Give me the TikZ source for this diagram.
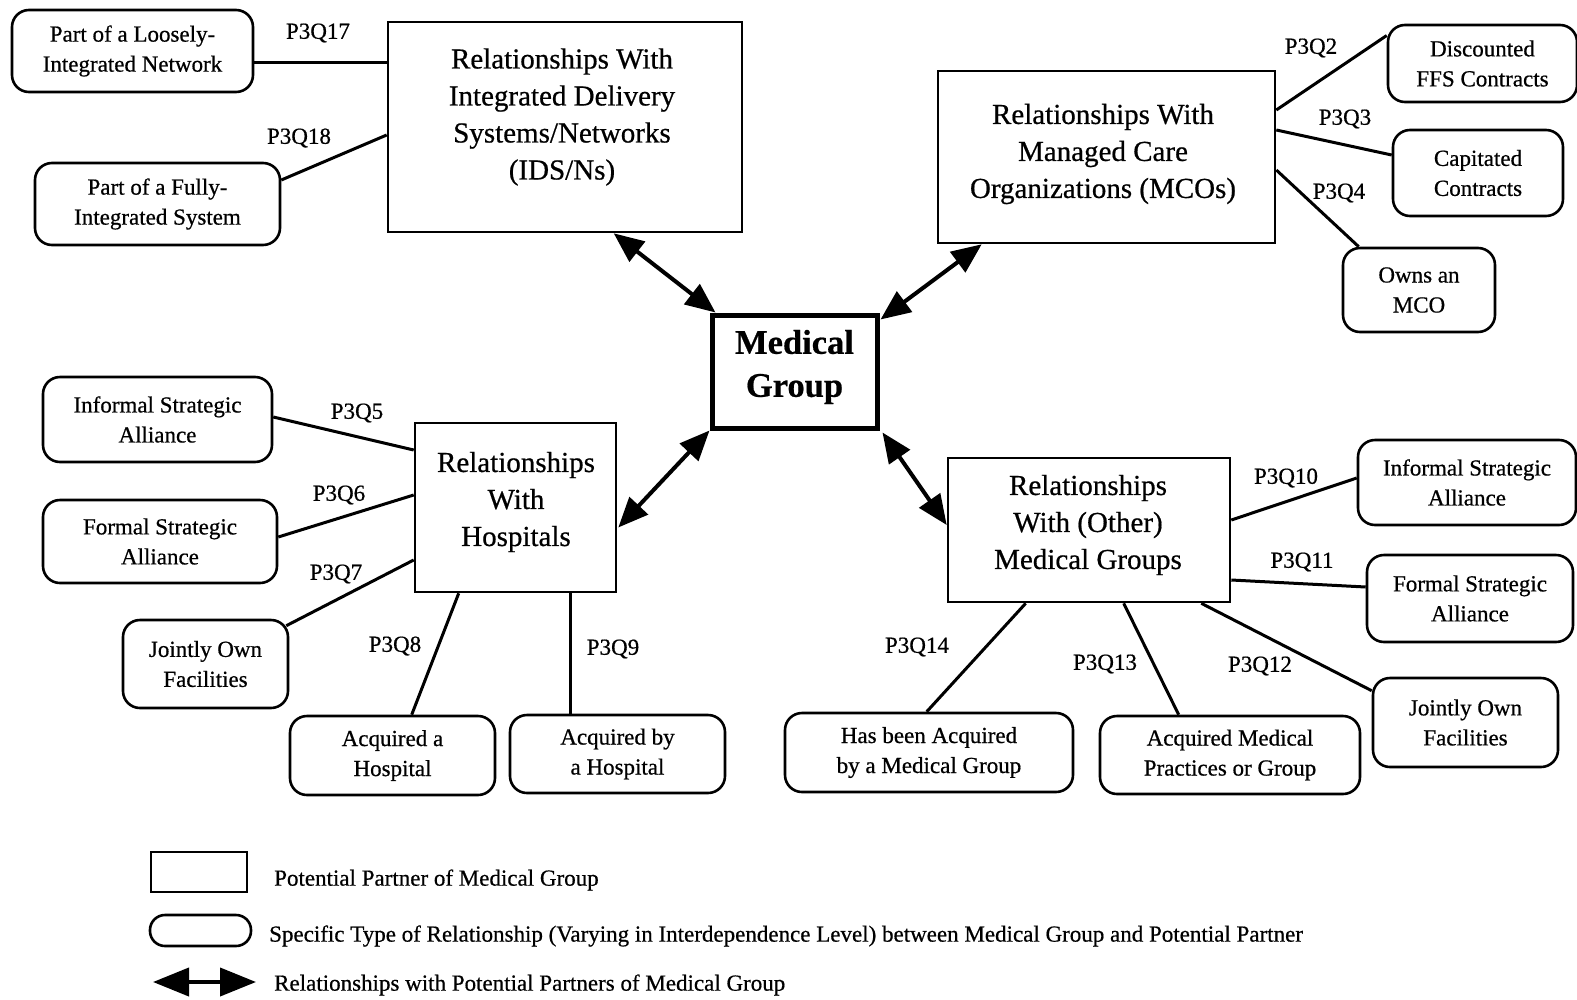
\documentclass[tikz,border=0pt]{standalone}
\usepackage{fontspec}
\setmainfont{Liberation Serif}[FakeBold=0.6]
\usetikzlibrary{calc,arrows.meta}
\begin{document}
\begin{tikzpicture}[x=1pt,y=-1pt,
  partner/.style={draw,line width=2.6pt,inner sep=0pt},
  partnertext/.style={align=center,inner sep=0pt,font=\fontsize{29}{37}\selectfont},
  reltype/.style={draw,line width=2.6pt,rounded corners=17pt,inner sep=0pt,align=center,
    font=\fontsize{23}{30}\selectfont},
  conn/.style={line width=3pt},
  qlabel/.style={inner sep=0pt,font=\fontsize{23}{28}\selectfont},
  link/.style={line width=4pt,{Triangle[length=30pt,width=25pt]}-{Triangle[length=30pt,width=25pt]}},
  leglink/.style={line width=4pt,{Triangle[length=36pt,width=28pt]}-{Triangle[length=36pt,width=28pt]}},
  legtext/.style={anchor=west,inner sep=0pt,font=\fontsize{23}{28}\selectfont}]
\useasboundingbox (0,0) rectangle (1577,999);

% central node
\node[draw,line width=5pt,minimum width=165pt,minimum height=113pt] (mg) at (794.5,371.5) {};
\node[align=center,inner sep=0pt,font=\fontsize{34.5}{43}\selectfont\bfseries] (mgt) at (794.5,367) {Medical\\Group};

% potential partners
\node[partner,minimum width=354pt,minimum height=210pt] (ids) at (565,127) {};
\node[partnertext] (idst) at (562,117) {Relationships With\\Integrated Delivery\\Systems/Networks\\(IDS/Ns)};
\node[partner,minimum width=337pt,minimum height=172pt] (mco) at (1106.5,157) {};
\node[partnertext] (mcot) at (1103,154) {Relationships With\\Managed Care\\Organizations (MCOs)};
\node[partner,minimum width=201pt,minimum height=169pt] (hosp) at (515.5,507.5) {};
\node[partnertext] (hospt) at (516,502) {Relationships\\With\\Hospitals};
\node[partner,minimum width=282pt,minimum height=144pt] (oth) at (1089,530) {};
\node[partnertext] (otht) at (1088,525) {Relationships\\With (Other)\\Medical Groups};

% specific relationship types
\node[reltype,minimum width=241pt,minimum height=82pt] (loose) at (132.5,51) {Part of a Loosely-\\Integrated Network};
\node[reltype,minimum width=245pt,minimum height=82pt] (fully) at (157.5,204) {Part of a Fully-\\Integrated System};
\node[reltype,minimum width=189pt,minimum height=77pt] (disc) at (1482.5,63.5) {Discounted\\FFS Contracts};
\node[reltype,minimum width=170pt,minimum height=86pt] (cap) at (1478,173) {Capitated\\Contracts};
\node[reltype,minimum width=152pt,minimum height=84pt] (owns) at (1419,290) {Owns an\\MCO};
\node[reltype,minimum width=229pt,minimum height=85pt] (hinf) at (157.5,419.5) {Informal Strategic\\Alliance};
\node[reltype,minimum width=234pt,minimum height=83pt] (hfor) at (160,541.5) {Formal Strategic\\Alliance};
\node[reltype,minimum width=165pt,minimum height=88pt] (hjoint) at (205.5,664) {Jointly Own\\Facilities};
\node[reltype,minimum width=205pt,minimum height=79pt] (hacq) at (392.5,755.5) {Acquired a\\Hospital};
\node[reltype,minimum width=215pt,minimum height=78pt] (hacqby) at (617.5,754) {Acquired by\\a Hospital};
\node[reltype,minimum width=288pt,minimum height=79pt] (ghas) at (929,752.5) {Has been Acquired\\by a Medical Group};
\node[reltype,minimum width=260pt,minimum height=78pt] (gacq) at (1230,755) {Acquired Medical\\Practices or Group};
\node[reltype,minimum width=185pt,minimum height=89pt] (gjoint) at (1465.5,722.5) {Jointly Own\\Facilities};
\node[reltype,minimum width=206pt,minimum height=87pt] (gfor) at (1470,598.5) {Formal Strategic\\Alliance};
\node[reltype,minimum width=218pt,minimum height=85pt] (ginf) at (1467,482.5) {Informal Strategic\\Alliance};

% links between the medical group and its partners
\draw[link] ($(ids.south west)+(227,0)$) -- ($(mg.north west)+(6,0)$);
\draw[link] ($(mco.south west)+(45,0)$) -- ($(mg.north east)+(1,7)$);
\draw[link] (mg.south west) -- ($(hosp.east)+(1,20)$);
\draw[link] ($(mg.south east)+(3,2)$) -- ($(oth.west)+(0,-5)$);

% connectors to relationship types
\draw[conn] ($(loose.east)+(0,11)$) coordinate (c17) -- (c17 -| ids.west);
\draw[conn] ($(fully.east)+(0,-24)$) -- ($(ids.west)+(0,8)$);
\draw[conn] ($(mco.east)+(0,-47)$) -- ($(disc.west)+(0,-28)$);
\draw[conn] ($(mco.east)+(0,-27)$) -- ($(cap.west)+(0,-18)$);
\draw[conn] ($(mco.east)+(0,13)$) -- ($(owns.north west)+(17,0)$);
\draw[conn] ($(hinf.east)+(0,-2.5)$) -- ($(hosp.west)+(0,-57.5)$);
\draw[conn] ($(hfor.east)+(0,-4.5)$) -- ($(hosp.west)+(0,-12.5)$);
\draw[conn] ($(hjoint.north east)+(-3,7)$) -- ($(hosp.west)+(0,52.5)$);
\draw[conn] ($(hosp.south west)+(45,0)$) -- ($(hacq.north west)+(123,0)$);
\draw[conn] ($(hosp.south west)+(157,0)$) coordinate (c9) -- (c9 |- hacqby.north);
\draw[conn] ($(oth.east)+(0,-10)$) -- ($(ginf.west)+(0,-4.5)$);
\draw[conn] ($(oth.east)+(0,50)$) -- ($(gfor.west)+(0,-11.5)$);
\draw[conn] ($(oth.south east)+(-30,0)$) -- ($(gjoint.north west)+(0,14)$);
\draw[conn] ($(oth.south west)+(177,0)$) -- ($(gacq.north west)+(80,0)$);
\draw[conn] ($(oth.south west)+(79,0)$) -- ($(ghas.north west)+(143,0)$);

% question labels
\node[qlabel] (l17) at (318,33) {P3Q17};
\node[qlabel] (l18) at (299,138) {P3Q18};
\node[qlabel] (l2) at (1311,48) {P3Q2};
\node[qlabel] (l3) at (1345,119) {P3Q3};
\node[qlabel] (l4) at (1339,193) {P3Q4};
\node[qlabel] (l5) at (357,413) {P3Q5};
\node[qlabel] (l6) at (339,495) {P3Q6};
\node[qlabel] (l7) at (336,574) {P3Q7};
\node[qlabel] (l8) at (395,646) {P3Q8};
\node[qlabel] (l9) at (613,649) {P3Q9};
\node[qlabel] (l10) at (1286,478) {P3Q10};
\node[qlabel] (l11) at (1302,562) {P3Q11};
\node[qlabel] (l12) at (1260,666) {P3Q12};
\node[qlabel] (l13) at (1105,664) {P3Q13};
\node[qlabel] (l14) at (917,647) {P3Q14};

% legend
\node[draw,line width=2.6pt,minimum width=96pt,minimum height=40pt,inner sep=0pt] (legbox) at (199,872) {};
\node[legtext] (legboxt) at (274,880) {Potential Partner of Medical Group};
\node[draw,line width=2.6pt,minimum width=101pt,minimum height=31pt,inner sep=0pt,rounded corners=15pt] (legoval) at (200.5,930.5) {};
\node[legtext] (legovalt) at (269,936) {Specific Type of Relationship (Varying in Interdependence Level) between Medical Group and Potential Partner};
\coordinate (legl) at (153,982);
\coordinate (legr) at (256,982);
\draw[leglink] (legl) -- (legr);
\node[legtext] (legarrt) at (274,985) {Relationships with Potential Partners of Medical Group};
\end{tikzpicture}
\end{document}
